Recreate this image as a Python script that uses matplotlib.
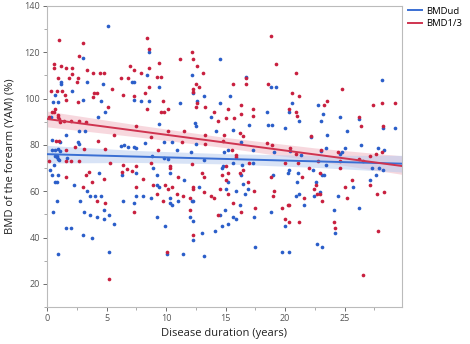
import numpy as np
import matplotlib
matplotlib.use('Agg')
import matplotlib.pyplot as plt

# points: (years, BMD %)
red_pts = [
    (1.0,125.5),(3.0,124.2),(2.7,118.3),(0.56,115.1),(0.56,113.2),(1.2,114.2),(1.6,113.2),(2.1,113.2),
    (3.4,112.2),(3.9,110.9),(4.45,110.9),(4.8,110.9),(6.2,109.1),(6.8,109.1),(7.0,114.2),(0.9,109.0),
    (2.1,110.8),(1.85,108.7),(2.6,108.7),(2.5,107.0),(5.5,104.2),(0.34,103.3),(0.87,103.3),(1.29,103.3),
    (1.5,101.5),(1.6,99.5),(3.95,102.5),(4.2,102.5),(3.9,100.7),(6.4,101.5),(2.6,98.7),(0.7,95.5),
    (5.1,96.3),(0.95,93.0),(0.95,92.0),(1.0,91.0),(1.1,90.0),(0.2,92.0),(1.4,90.3),(2.0,90.3),(2.7,90.3),
    (3.25,89.8),(5.6,84.1),(1.0,81.9),(0.76,81.6),(2.35,79.2),(4.3,81.6),(4.9,78.3),(1.6,77.8),(3.1,78.3),
    (0.4,94.0),(0.6,94.0),
    (0.2,73.0),(1.6,73.0),(2.0,73.0),(2.7,73.0),(5.3,72.3),(1.6,66.0),(3.3,67.1),(3.55,68.1),(4.8,65.1),
    (3.8,64.0),(3.0,62.0),(4.2,55.9),(4.9,54.9),(5.2,21.9),(6.4,71.2),(6.3,68.3),(6.7,69.5),(7.1,68.8),
    (7.5,61.9),(7.3,50.9),
    (8.4,126.2),(8.6,121.3),(11.15,117.2),(12.2,120.1),(12.3,117.3),(12.6,114.1),(7.3,112.2),(7.9,111.2),
    (8.6,113.2),(13.1,111.2),(9.2,109.3),(9.6,109.3),(9.4,115.4),(8.6,105.2),(12.5,106.1),(12.8,105.2),
    (12.3,104.0),(12.3,103.0),(8.2,102.3),(7.3,101.3),(9.7,99.1),(12.6,98.2),(12.5,96.3),(13.3,96.3),
    (8.4,95.3),(9.6,94.3),(9.8,94.3),(10.2,95.3),(14.0,94.2),(14.4,90.3),(7.45,88.0),(10.2,85.9),
    (11.5,86.0),(13.25,84.1),(14.8,81.6),(8.7,83.2),(11.3,81.3),(13.3,80.3),(9.3,78.0),
    (7.5,70.9),(8.1,65.1),(8.7,72.0),(10.3,70.9),(10.3,70.0),(8.9,62.9),(9.9,62.9),(10.2,60.9),(10.5,61.9),
    (9.2,59.0),(9.7,55.9),(10.9,59.0),(11.4,58.0),(11.0,66.0),(12.2,71.9),(13.0,68.0),(13.2,66.0),
    (12.3,61.9),(12.3,60.9),(13.2,59.8),(12.05,57.0),(12.0,51.9),(12.3,40.9),(10.1,33.8),(13.8,58.0),
    (14.0,57.0),(14.5,60.9),(14.7,67.0),(14.4,49.8),
    (18.8,127.1),(19.2,115.1),(20.9,111.2),(16.7,109.1),(15.6,106.2),(16.75,106.2),(18.6,106.2),
    (20.6,102.3),(21.2,101.3),(16.3,97.3),(17.3,95.3),(20.3,95.3),(20.9,94.3),(15.2,95.3),(16.3,93.4),
    (17.3,92.4),(21.0,92.4),(15.0,91.5),(15.7,91.5),(16.2,85.0),(16.5,84.0),(14.9,84.1),(18.5,81.0),
    (18.9,80.1),(15.5,78.0),(15.9,75.8),(15.9,74.7),(22.2,84.0),(20.9,76.0),(20.4,78.5),
    (17.0,72.0),(15.0,70.7),(15.2,68.0),(16.5,69.0),(16.2,68.0),(15.0,65.0),(16.9,63.9),(15.2,58.8),
    (17.4,60.0),(18.8,66.0),(19.1,60.0),(19.0,58.0),(20.0,72.0),(21.4,66.0),(22.0,70.0),(21.1,72.0),
    (21.6,57.0),(15.6,54.9),(16.3,50.9),(17.5,52.9),(19.7,52.9),(20.2,53.9),(20.3,53.9),(20.0,48.0),
    (20.3,46.8),(21.2,46.8),
    (24.8,104.1),(23.5,99.1),(23.3,97.1),(27.4,97.1),(28.1,98.1),(29.2,98.1),(26.2,92.2),(26.4,88.2),
    (28.2,88.2),(23.0,78.0),(24.4,77.0),(27.6,76.0),(28.1,77.0),(27.1,75.0),(26.2,74.0),
    (22.8,73.0),(24.6,73.0),(26.5,73.0),(24.6,70.0),(22.9,68.0),(25.6,65.0),(27.1,62.9),(25.0,61.9),
    (22.6,62.9),(22.4,60.9),(22.7,58.8),(22.9,58.8),(25.2,57.0),(23.1,55.9),(27.7,58.8),(28.3,59.8),
    (24.1,46.8),(24.2,43.9),(27.8,42.9),(26.5,23.9),
]

blue_pts = [
    (5.1,131.3),(3.0,117.4),(7.1,107.2),(7.3,107.2),(1.2,107.3),(1.2,106.2),(3.4,107.1),(4.7,106.1),
    (2.1,103.3),(0.64,101.5),(3.0,99.4),(0.5,98.7),(0.9,98.7),(4.5,98.9),(4.9,94.4),(4.3,92.2),(7.3,99.5),
    (2.7,86.0),(3.2,86.0),(1.6,84.2),(0.45,82.0),(1.1,81.4),(2.6,81.4),(2.7,80.3),(6.25,79.4),(6.5,79.8),
    (6.8,79.1),(7.3,79.1),(0.4,77.8),(0.7,77.8),(0.9,78.4),(1.1,77.2),(0.67,75.3),(0.8,74.6),(1.7,74.5),
    (0.3,92.0),
    (0.8,75.0),(0.9,74.0),(1.0,73.3),(0.56,71.2),(0.25,69.0),(0.45,67.1),(0.9,67.1),(4.4,68.0),(0.7,63.9),
    (0.8,63.9),(2.3,62.9),(3.4,60.0),(3.6,58.0),(4.0,58.0),(4.5,58.0),(0.8,55.9),(2.8,55.9),(0.5,50.9),
    (3.1,50.9),(3.6,49.8),(4.2,49.0),(4.8,48.0),(4.8,52.0),(5.2,49.8),(5.6,45.9),(1.6,44.0),(2.0,44.0),
    (3.05,40.9),(3.8,39.8),(0.9,32.7),(5.2,33.8),(6.3,67.2),(6.4,55.9),(7.5,58.0),(7.3,54.9),
    (8.6,120.0),(14.5,117.3),(8.4,110.3),(12.2,110.1),(9.4,105.2),(12.3,102.3),(13.2,101.2),(7.9,99.1),
    (8.6,99.1),(11.2,98.2),(12.6,99.0),(14.5,98.2),(13.8,92.2),(9.4,89.1),(12.4,89.3),(12.5,88.1),
    (14.2,86.0),(8.2,81.0),(9.8,81.1),(10.5,81.1),(12.5,80.3),(7.5,78.8),(10.9,78.0),(12.1,77.0),
    (9.8,74.5),(10.2,74.0),
    (7.5,68.0),(8.1,58.0),(8.9,70.0),(9.25,67.0),(10.3,68.0),(9.25,62.9),(9.4,61.9),(8.7,57.0),(10.3,57.0),
    (10.3,54.9),(10.5,53.9),(11.0,55.9),(11.5,64.9),(12.8,61.9),(12.2,55.9),(12.3,55.9),(12.05,48.8),
    (12.3,47.0),(12.3,38.8),(9.2,48.8),(9.9,44.9),(10.1,32.8),(11.4,32.8),(13.0,41.9),(13.2,31.9),
    (14.1,42.9),(14.7,70.0),(14.5,49.8),(14.7,44.9),(13.2,73.5),(8.8,75.0),
    (16.7,109.5),(18.8,105.2),(19.2,105.2),(15.4,101.3),(20.6,98.2),(18.5,94.3),(20.3,94.3),(21.2,90.3),
    (15.6,86.5),(17.0,88.5),(18.6,88.5),(18.9,88.5),(20.0,87.5),(16.3,81.1),(14.9,77.0),(15.2,77.8),
    (17.3,77.9),(19.1,77.0),(20.4,77.5),(22.2,83.3),(21.3,75.8),
    (15.6,72.0),(17.3,72.2),(14.8,70.7),(16.4,71.2),(16.3,66.8),(15.2,63.9),(16.5,63.0),(16.9,60.9),
    (15.0,60.9),(15.9,60.0),(16.6,59.0),(19.0,67.0),(20.2,68.0),(20.3,69.0),(21.1,68.0),(21.0,63.9),
    (20.9,58.0),(21.2,59.0),(21.6,53.9),(16.2,53.9),(17.4,48.8),(14.95,51.9),(15.6,48.8),(15.9,47.8),
    (15.2,45.9),(18.8,50.9),(20.0,44.9),(17.5,35.9),(19.7,33.8),(20.3,33.8),
    (28.1,108.0),(22.8,97.1),(23.2,93.2),(24.6,92.2),(26.2,91.3),(23.0,90.3),(25.2,86.2),(28.2,87.2),
    (29.2,87.2),(23.5,84.1),(26.4,80.1),(23.0,77.3),(23.4,78.8),(24.8,77.0),(24.6,76.0),(25.0,78.8),
    (27.8,78.8),(28.3,78.0),
    (23.4,71.2),(22.3,69.0),(27.3,70.0),(27.9,70.0),(28.2,69.0),(23.1,67.0),(23.3,67.0),(27.6,67.0),
    (27.1,65.0),(25.7,61.9),(22.6,63.9),(22.9,59.8),(22.4,58.0),(24.4,58.0),(26.2,52.9),(24.1,51.9),
    (24.2,41.9),(22.7,37.0),(23.1,35.9),
]

# fitted lines and confidence bands
fit_x = [0, 29.8]
red_fit = [91.2, 70.9]
blue_fit = [76.0, 71.9]
band_x = [0, 7.5, 15, 22.5, 29.8]
red_lo = [87.8, 83.5, 78.8, 73.1, 67.3]
red_hi = [94.6, 88.7, 83.2, 78.7, 75.3]
blue_lo = [72.2, 72.4, 71.8, 70.3, 68.3]
blue_hi = [79.8, 77.6, 76.2, 75.5, 75.5]

red = '#c8203f'
blue = '#2b5ec9'

plt.rcParams['font.family'] = ['Open Sans', 'DejaVu Sans']

fig = plt.figure(figsize=(4.7, 3.44), dpi=100)
ax = fig.add_axes([0.1, 0.1076, 0.755, 0.875])

rp = np.array(red_pts)
bp = np.array(blue_pts)

ax.fill_between(band_x, red_lo, red_hi, color='#f2b8c4', alpha=0.55, lw=0, zorder=1)
ax.fill_between(band_x, blue_lo, blue_hi, color='#b9cdf0', alpha=0.55, lw=0, zorder=1)

ax.scatter(bp[:, 0], bp[:, 1], s=7, color=blue, lw=0, zorder=3)
ax.scatter(rp[:, 0], rp[:, 1], s=7, color=red, lw=0, zorder=3)

ax.plot(fit_x, blue_fit, color='#3a6fd3', lw=1.4, zorder=4, label='BMDud')
ax.plot(fit_x, red_fit, color='#cf3450', lw=1.4, zorder=4, label='BMD1/3')

ax.set_xlim(0, 29.8)
ax.set_ylim(10, 140)
ax.set_xticks([0, 5, 10, 15, 20, 25])
ax.set_xticks(np.arange(0, 30, 2.5), minor=True)
ax.set_yticks([20, 40, 60, 80, 100, 120, 140])
ax.set_yticks(np.arange(10, 141, 10), minor=True)
ax.tick_params(labelsize=6.5, colors='#555555', length=3, width=0.6, pad=2)
ax.tick_params(which='minor', length=2, width=0.5, colors='#888888')
for s in ax.spines.values():
    s.set_color('#bbbbbb')
    s.set_linewidth(0.8)

ax.set_xlabel('Disease duration (years)', fontsize=8, color='#222222', labelpad=4)
ax.set_ylabel('BMD of the forearm (YAM) (%)', fontsize=8, color='#222222', labelpad=6)

ax.legend(loc='upper left', bbox_to_anchor=(1.0, 1.02), frameon=False, fontsize=6.8,
          handlelength=1.4, handletextpad=0.5, labelspacing=0.35, borderaxespad=0.3)

fig.savefig('out.png', dpi=100)
